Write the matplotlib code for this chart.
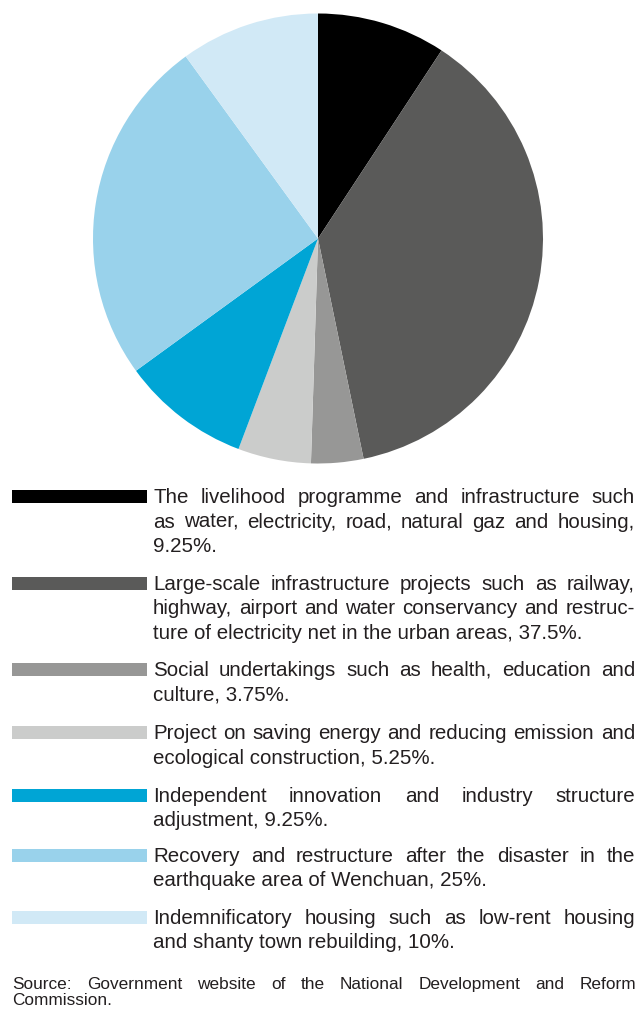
import matplotlib
matplotlib.use("Agg")
import matplotlib.pyplot as plt
from matplotlib import font_manager

# 2008 stimulus package: share of each investment area (%)
shares = [9.25, 37.5, 3.75, 5.25, 9.25, 25, 10]
colors = ["#000000", "#5a5a59", "#979796", "#cbcccb", "#00a5d5", "#99d2eb", "#d1e9f6"]
# legend text, already broken into lines; the share is appended to the last line
categories = [
    ["The livelihood programme and infrastructure such",
     "as water, electricity, road, natural gaz and housing,",
     ""],
    ["Large-scale infrastructure projects such as railway,",
     "highway, airport and water conservancy and restruc-",
     "ture of electricity net in the urban areas,"],
    ["Social undertakings such as health, education and",
     "culture,"],
    ["Project on saving energy and reducing emission and",
     "ecological construction,"],
    ["Independent innovation and industry structure",
     "adjustment,"],
    ["Recovery and restructure after the disaster in the",
     "earthquake area of Wenchuan,"],
    ["Indemnificatory housing such as low-rent housing",
     "and shanty town rebuilding,"],
]
source_lines = ["Source: Government website of the National Development and Reform",
                "Commission."]

names = {f.name for f in font_manager.fontManager.ttflist}
FAMILY = "Liberation Sans" if "Liberation Sans" in names else "DejaVu Sans"
TEXT_COLOR = "#231f20"

W, H = 641, 1009
fig = plt.figure(figsize=(W / 100, H / 100), dpi=100)
bg = fig.add_axes([0, 0, 1, 1])
bg.set_xlim(0, W)
bg.set_ylim(H, 0)
bg.axis("off")

# pie, clockwise from 12 o'clock
pie_ax = fig.add_axes([93 / W, (H - 463.5) / H, 450 / W, 450 / H])
pie_ax.pie(shares, colors=colors, startangle=90, counterclock=False,
           wedgeprops=dict(linewidth=0))
pie_ax.set_xlim(-1, 1)
pie_ax.set_ylim(-1, 1)
pie_ax.set_aspect("equal")

renderer = fig.canvas.get_renderer()


def text_width(s, size):
    t = bg.text(0, 0, s, fontsize=size, family=FAMILY)
    w = t.get_window_extent(renderer).width
    t.remove()
    return w


def draw_line(s, x0, x1, y, size, justify):
    words = s.split(" ")
    if not justify or len(words) < 2:
        bg.text(x0, y, s, fontsize=size, family=FAMILY,
                color=TEXT_COLOR, ha="left", va="baseline")
        return
    widths = [text_width(w, size) for w in words]
    gap = (x1 - x0 - sum(widths)) / (len(words) - 1)
    # squeeze the glyphs a little if the line would not fit with a real space
    min_gap = 0.22 * size * 100 / 72
    if gap < min_gap:
        size = size * (x1 - x0 - min_gap * (len(words) - 1)) / sum(widths)
        widths = [text_width(w, size) for w in words]
        gap = (x1 - x0 - sum(widths)) / (len(words) - 1)
    x = x0
    for w, ww in zip(words, widths):
        bg.text(x, y, w, fontsize=size, family=FAMILY,
                color=TEXT_COLOR, ha="left", va="baseline")
        x += ww + gap


def draw_paragraph(lines, x0, x1, y0, step, size):
    for i, line in enumerate(lines):
        draw_line(line, x0, x1, y0 + i * step, size, justify=i < len(lines) - 1)


# legend: colour swatch + justified description
first_baselines = [503, 590, 676, 739, 802, 862, 924]
cap = 13.3
bg.barh([b - cap / 2 for b in first_baselines], 135, left=12, height=cap,
        color=colors, linewidth=0)

for lines, v, y0 in zip(categories, shares, first_baselines):
    lines = list(lines)
    lines[-1] = (lines[-1] + " " if lines[-1] else "") + f"{v:g}%."
    draw_paragraph(lines, 153, 635, y0, 24.5, 14.8)

draw_paragraph(source_lines, 12, 636, 989, 16, 12.4)

fig.savefig("out.png", dpi=100)
